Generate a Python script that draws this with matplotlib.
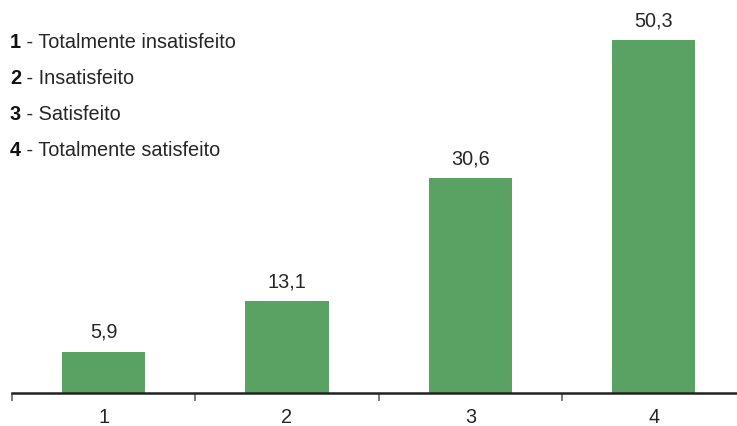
import matplotlib
matplotlib.use('Agg')
import matplotlib.pyplot as plt
import numpy as np

categories = ['1', '2', '3', '4']
values = [5.9, 13.1, 30.6, 50.3]
value_labels = ['5,9', '13,1', '30,6', '50,3']
legend_numbers = ['1', '2', '3', '4']
legend_texts = ['Totalmente insatisfeito', 'Insatisfeito', 'Satisfeito',
                'Totalmente satisfeito']

plt.rcParams['font.family'] = ['Liberation Sans', 'DejaVu Sans']
text_color = '#262626'
bar_color = '#5aa264'

fig = plt.figure(figsize=(7.37, 4.26), dpi=100)
# axes reaches slightly past the right edge, as in the original
ax = fig.add_axes([12 / 737, 1 - 393 / 426, 733.3 / 737, 393 / 426])

x = np.arange(len(categories))
ax.bar(x, values, width=0.455, color=bar_color, zorder=2)
for xi, v, lab in zip(x, values, value_labels):
    ax.annotate(lab, (xi, v), xytext=(0, 7), textcoords='offset points',
                ha='center', va='bottom', fontsize=14.3, color=text_color)

ax.set_xlim(-0.5, len(categories) - 0.5)
ax.set_ylim(0, 56)
ax.set_yticks([])
ax.set_xticks(x)
ax.set_xticklabels(categories, fontsize=14.3, color=text_color)
ax.tick_params(axis='x', length=0, pad=11)
ax.set_xticks(np.arange(len(categories) + 1) - 0.5, minor=True)
ax.tick_params(axis='x', which='minor', length=6, width=1.2, color='#666666')
for side in ['top', 'right', 'left']:
    ax.spines[side].set_visible(False)
ax.spines['bottom'].set_linewidth(1.8)
ax.spines['bottom'].set_color('#222222')

# text legend at top left
y0 = 42
for i, (num, txt) in enumerate(zip(legend_numbers, legend_texts)):
    ypix = y0 + i * 36
    t = fig.text(10 / 737, 1 - ypix / 426, num, fontsize=14.3,
                 fontweight='bold', color='#111111', va='center', ha='left')
    fig.canvas.draw()
    bb = t.get_window_extent()
    fig.text(bb.x1 / 737, 1 - ypix / 426, ' - ' + txt, fontsize=14.3,
             color=text_color, va='center', ha='left')

fig.savefig('out.png', dpi=100)
